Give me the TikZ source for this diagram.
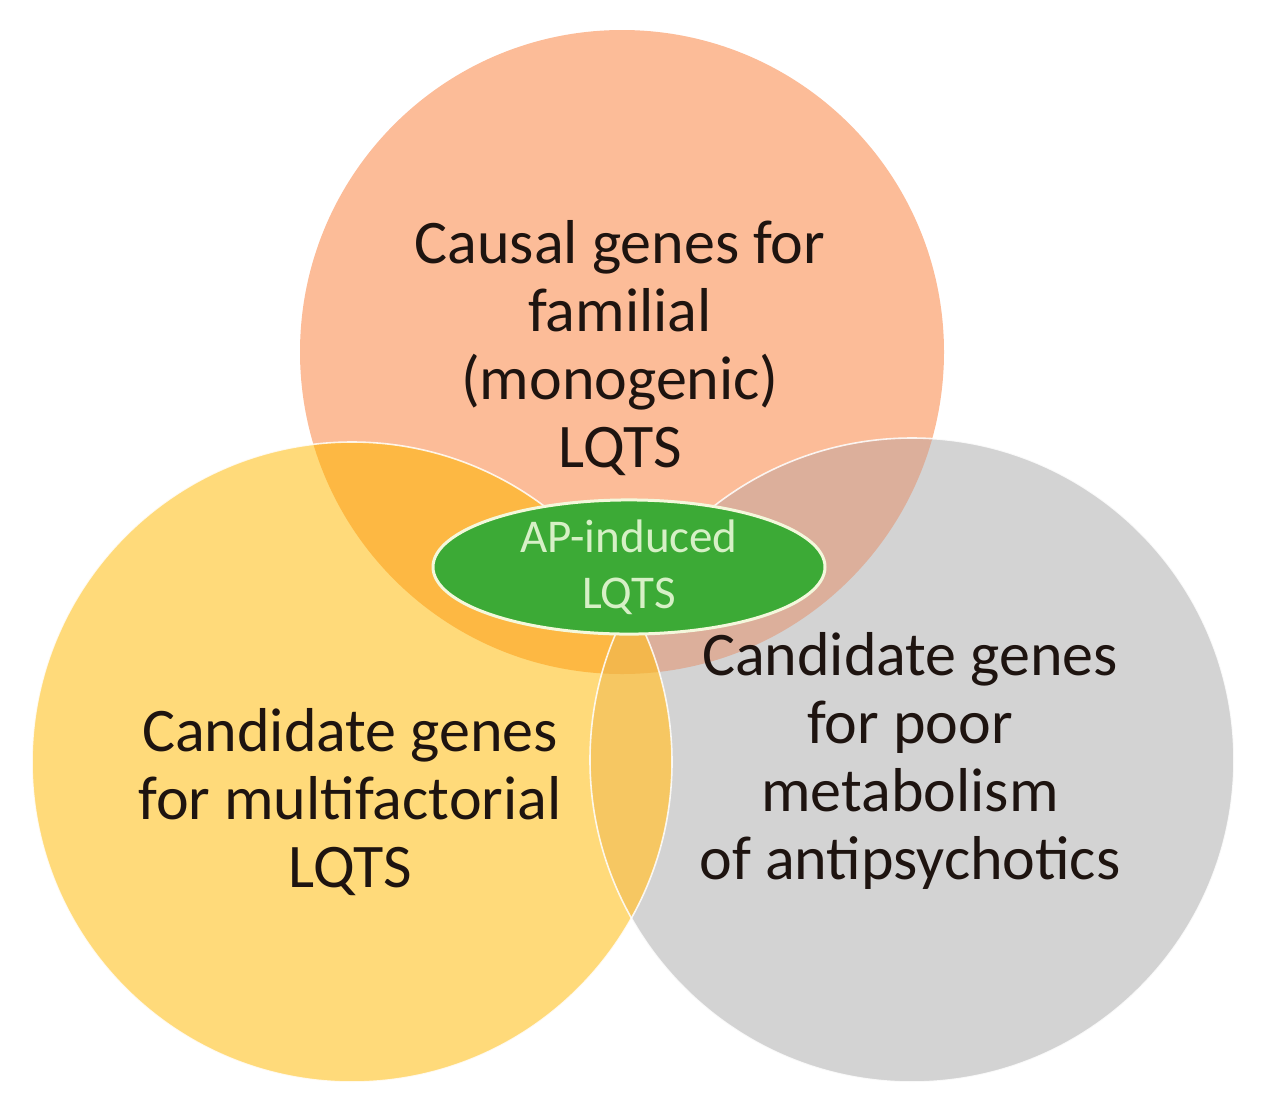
\documentclass[tikz,border=0pt]{standalone}
\usepackage{fontspec}
\setmainfont{Carlito}
\usetikzlibrary{shapes.geometric}
\definecolor{salmonfill}{HTML}{FCBC98}
\definecolor{yellowfill}{HTML}{FFDA7A}
\definecolor{grayfill}{HTML}{D3D3D3}
\definecolor{salmonyellow}{HTML}{FDB843}
\definecolor{salmongray}{HTML}{DCAF9B}
\definecolor{yellowgray}{HTML}{F6C762}
\definecolor{allthree}{HTML}{F3B74C}
\definecolor{apgreen}{HTML}{3CAA36}
\definecolor{apedge}{HTML}{F4F8DC}
\definecolor{aptext}{HTML}{D6F0C6}
\definecolor{textdark}{HTML}{1E1410}
\tikzstyle{setlabel}=[align=center, text=textdark, inner sep=0, font=\fontsize{62}{68}\selectfont]
\tikzstyle{whiteedge}=[white, line width=1.6, opacity=.85]
\tikzstyle{apnode}=[ellipse, fill=apgreen, draw=apedge, line width=3, minimum width=392, minimum height=130, inner sep=0, text=aptext, align=center, font=\fontsize{47}{56}\selectfont]
\newcommand{\pathcausal}{(622,352) circle (322pt)}
\newcommand{\pathmulti}{(352,762) circle (320pt)}
\newcommand{\pathpoor}{(912,760) circle (322pt)}
\begin{document}
\begin{tikzpicture}[x=1pt, y=-1pt]
  \useasboundingbox (0,0) rectangle (1261,1109);
  \fill[salmonfill] \pathcausal;
  \fill[yellowfill] \pathmulti;
  \fill[grayfill] \pathpoor;
  \begin{scope}
    \clip \pathcausal;
    \fill[salmonyellow] \pathmulti;
    \fill[salmongray] \pathpoor;
  \end{scope}
  \begin{scope}
    \clip \pathmulti;
    \fill[yellowgray] \pathpoor;
    \clip \pathcausal;
    \fill[allthree] \pathpoor;
  \end{scope}
  \draw[whiteedge] \pathpoor;
  \draw[whiteedge] \pathmulti;
  \node[apnode] (AP) at (629,567) {AP-induced\\LQTS};
  \node[setlabel] (causal) at (620,348) {Causal genes for\\familial\\(monogenic)\\LQTS};
  \node[setlabel] (multi) at (350,802) {Candidate genes\\for multifactorial\\LQTS};
  \node[setlabel] (poor) at (910,761) {Candidate genes\\for poor\\metabolism\\of antipsychotics};
\end{tikzpicture}
\end{document}
